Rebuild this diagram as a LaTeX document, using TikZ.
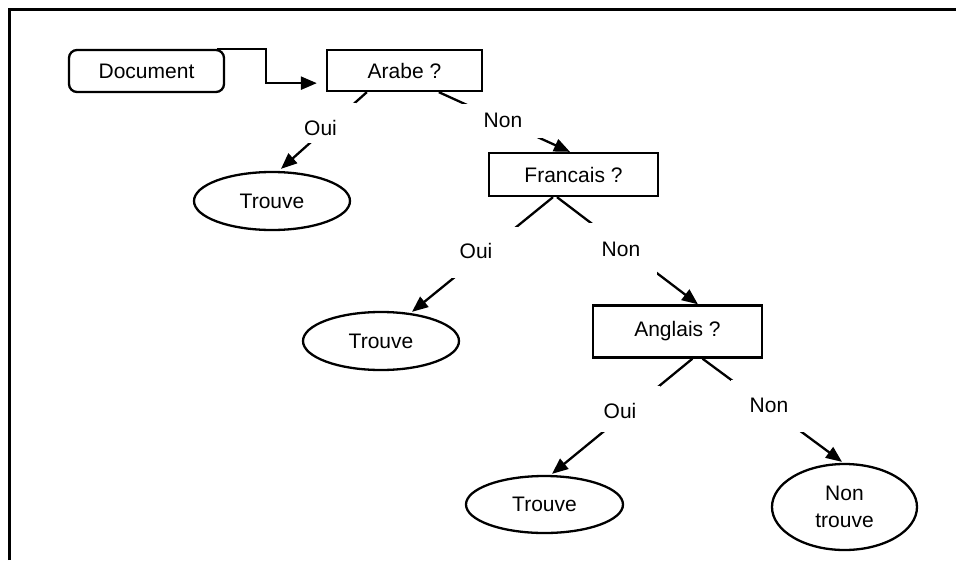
\documentclass[tikz,border=0pt]{standalone}
\usepackage{fontspec}
\setmainfont{Liberation Sans}
\usetikzlibrary{arrows.meta,shapes.geometric,calc}
\begin{document}
\begin{tikzpicture}[x=1pt,y=-1pt,
  every node/.style={font=\fontsize{21}{27}\selectfont, inner sep=0pt},
  box/.style={draw, line width=2.3pt, rectangle},
  oval/.style={draw, line width=2.3pt, ellipse},
  arr/.style={line width=2.3pt, -{Triangle[length=16pt,width=13pt]}},
  cover/.style={fill=white}
]
\useasboundingbox (0,0) rectangle (956,560);
\draw[line width=2.8pt] (9.5,560) -- (9.5,9.5) -- (956,9.5);

% nodes
\node[box, rounded corners=8pt, minimum width=155pt, minimum height=42pt] (doc) at (146.5,71) {Document};
\node[box, minimum width=155pt, minimum height=41pt] (arabe) at (404.5,70.5) {Arabe ?};
\node[box, minimum width=169pt, minimum height=43pt] (fr) at (573.5,174.5) {Francais ?};
\node[box, minimum width=169pt, minimum height=52pt] (an) at (677.5,331.5) {Anglais ?};
\node[oval, minimum width=156pt, minimum height=58pt] (t1) at (272,201) {Trouve};
\node[oval, minimum width=156pt, minimum height=58pt] (t2) at (381,341) {Trouve};
\node[oval, minimum width=157pt, minimum height=57pt] (t3) at (544.5,504.5) {Trouve};
\node[oval, minimum width=145pt, minimum height=86pt, align=center] (nt) at (844.5,507) {Non\\trouve};

% connectors
\draw[arr] ($(doc.north east)+(-8,0)$) -- ++(49,0) |- ($(arabe.south west)+(-9,-9)$);
\draw[arr] ($(arabe.south west)+(41,0)$) -- ($(t1.north)+(9,-2)$);
\draw[arr] ($(arabe.south west)+(113,0)$) -- ($(fr.north)+(-3.5,0)$);
\draw[arr] ($(fr.south)+(-20.5,0)$) -- ($(t2.north)+(31,1)$);
\draw[arr] ($(fr.south)+(-16.5,0)$) -- ($(an.north)+(20.5,0)$);
\draw[arr] ($(an.south)+(15,0)$) -- ($(t3.north)+(7.5,-1)$);
\draw[arr] ($(an.south)+(25,0)$) -- ($(nt.north)+(-2.5,-1)$);

% labels
\node[cover, minimum width=71pt, minimum height=40pt, label={[yshift=-5pt]center:Oui}] (l1) at (320.5,123) {};
\node[cover, minimum width=84pt, minimum height=34pt, label={[yshift=1pt]center:Non}] (l2) at (503,121) {};
\node[cover, minimum width=84pt, minimum height=51pt, label={[yshift=1.5pt]center:Oui}] (l3) at (476,252.5) {};
\node[cover, minimum width=70pt, minimum height=52pt, label={[xshift=-1pt]center:Non}] (l4) at (622,249) {};
\node[cover, minimum width=80pt, minimum height=46pt, label={[yshift=-2pt]center:Oui}] (l5) at (620,409) {};
\node[cover, minimum width=76pt, minimum height=52pt, label={[yshift=1pt]center:Non}] (l6) at (769,406) {};
\end{tikzpicture}
\end{document}
